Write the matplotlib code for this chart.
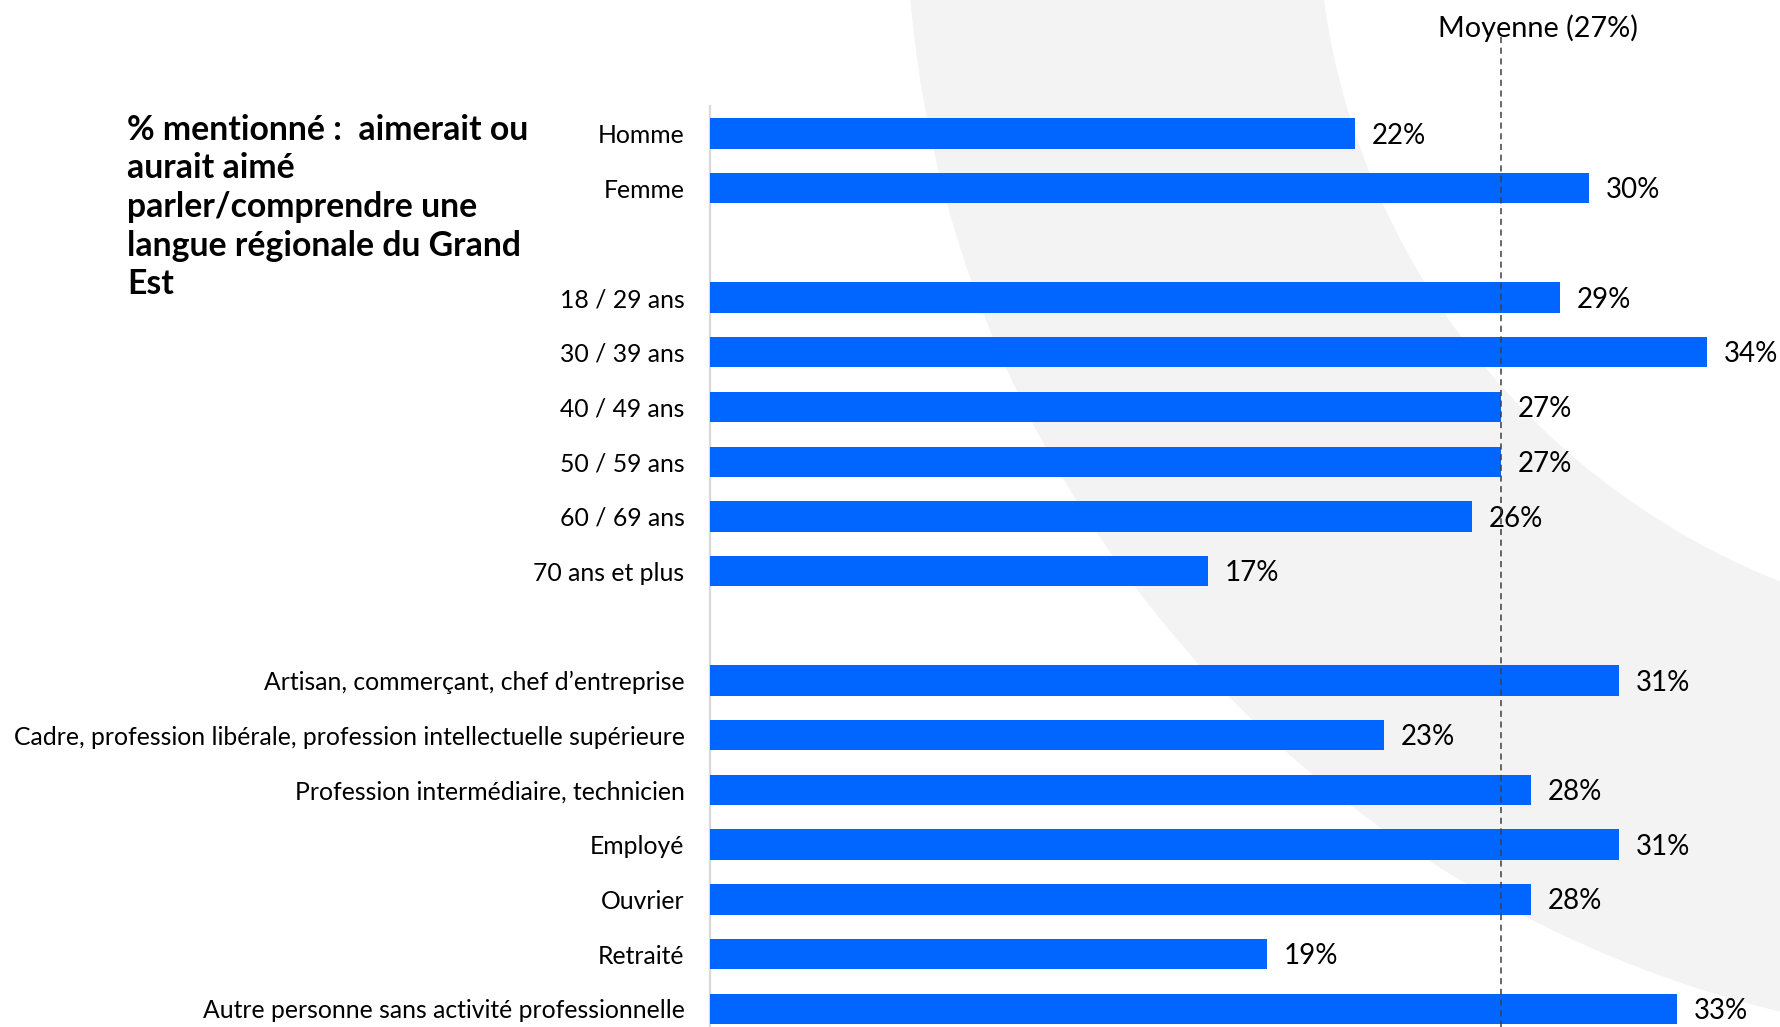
import matplotlib
matplotlib.use("Agg")
import matplotlib.pyplot as plt
from matplotlib.patches import Annulus

plt.rcParams['font.family'] = ['Lato', 'DejaVu Sans']

# ---------------- data ----------------
sexe_labels = ["Homme", "Femme"]
sexe_values = [22, 30]

age_labels = ["18 / 29 ans", "30 / 39 ans", "40 / 49 ans", "50 / 59 ans",
              "60 / 69 ans", "70 ans et plus"]
age_values = [29, 34, 27, 27, 26, 17]

csp_labels = ["Artisan, commerçant, chef d\u2019entreprise",
              "Cadre, profession libérale, profession intellectuelle supérieure",
              "Profession intermédiaire, technicien",
              "Employé",
              "Ouvrier",
              "Retraité",
              "Autre personne sans activité professionnelle"]
csp_values = [31, 23, 28, 31, 28, 19, 33]

moyenne = 27
moyenne_label = "Moyenne (27%)"
title = "% mentionné :  aimerait ou\naurait aimé\nparler/comprendre une\nlangue régionale du Grand\nEst"

# ---------------- layout ----------------
W, H = 1780, 1027
DPI = 100
fig = plt.figure(figsize=(W / DPI, H / DPI), dpi=DPI, facecolor="white")

# decorative background arc
bg = fig.add_axes([0, 0, 1, 1], zorder=0)
bg.set_xlim(0, W)
bg.set_ylim(H, 0)
bg.axis("off")
bg.add_patch(Annulus((2050, -100), 1144, 1144 - 733, facecolor="#f3f3f3",
                     edgecolor="none"))

# build positions with a blank slot between groups
groups = [(sexe_labels, sexe_values), (age_labels, age_values),
          (csp_labels, csp_values)]
labels, values, pos = [], [], []
p = 0
for gl, gv in groups:
    for l, v in zip(gl, gv):
        labels.append(l)
        values.append(v)
        pos.append(p)
        p += 1
    p += 1

ax_left = 709.5 / W
px_per_unit = 29.33
xmax = 36
ax_w = xmax * px_per_unit / W
ax_top_px = 106
ax = fig.add_axes([ax_left, 0, ax_w, (H - ax_top_px) / H], zorder=1)
ax.patch.set_alpha(0)

blue = "#0066ff"
ax.barh(pos, values, height=0.555, color=blue, edgecolor="none", zorder=3)
ax.set_xlim(0, xmax)
ax.set_ylim(16.334, -0.503)

ax.set_yticks(pos)
ax.set_yticklabels(labels, fontsize=17.8, color="black")
ax.tick_params(axis="y", length=0, pad=18)
ax.set_xticks([])
for s in ["top", "right", "bottom"]:
    ax.spines[s].set_visible(False)
ax.spines["left"].set_color("#d9d9d9")
ax.spines["left"].set_linewidth(1.6)

for y, v in zip(pos, values):
    ax.annotate(f"{v}%", xy=(v, y), xytext=(12, -1.5), textcoords="offset points",
                ha="left", va="center", fontsize=20, color="black", zorder=4)

# average line
ax.axvline(moyenne, ymin=0, ymax=(H - 37) / (H - ax_top_px), color="#404040",
           linewidth=1.1, linestyle=(0, (4, 3)), clip_on=False, zorder=5)
ax.annotate(moyenne_label, xy=(moyenne, 1.0), xycoords=("data", "axes fraction"),
            xytext=(26, 49.7), textcoords="offset points", ha="center",
            va="baseline", fontsize=20.8, color="black", annotation_clip=False)

# title block
fig.text(127 / W, 1 - 114 / H, title, ha="left", va="top", fontsize=24.3,
         fontweight="bold", color="black", linespacing=1.25)

fig.savefig("out.png", dpi=DPI, facecolor="white")
